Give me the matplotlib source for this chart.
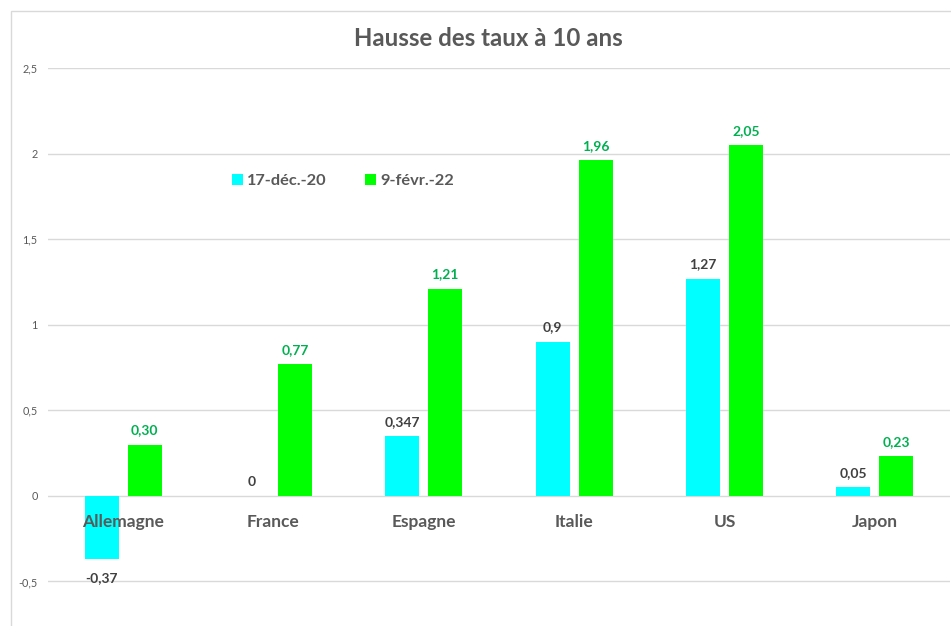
import matplotlib
matplotlib.use("Agg")
import matplotlib.pyplot as plt
from matplotlib.patches import Rectangle

categories = ["Allemagne", "France", "Espagne", "Italie", "US", "Japon"]
series_names = ["17-déc.-20", "9-févr.-22"]
values_dec20 = [-0.37, 0, 0.347, 0.9, 1.27, 0.05]
values_feb22 = [0.30, 0.77, 1.21, 1.96, 2.05, 0.23]
labels_dec20 = ["-0,37", "0", "0,347", "0,9", "1,27", "0,05"]
labels_feb22 = ["0,30", "0,77", "1,21", "1,96", "2,05", "0,23"]
yticks = [-0.5, 0, 0.5, 1, 1.5, 2, 2.5]
ytick_labels = ["-0,5", "0", "0,5", "1", "1,5", "2", "2,5"]

plt.rcParams['font.family'] = ['Lato', 'DejaVu Sans']

W, H = 951, 626
fig = plt.figure(figsize=(W / 100, H / 100), dpi=100)

# outer chart border
fig.patches.append(Rectangle((10.5 / W, -0.1), 1.2, (H - 10.5) / H + 0.1,
                             transform=fig.transFigure, fill=False,
                             edgecolor="#d9d9d9", linewidth=1.0))

left, right = 48 / W, 950 / W
top_px, bot_px = 68, 667
ax = fig.add_axes([left, (H - bot_px) / H, right - left, (bot_px - top_px) / H])
ax.set_xlim(-0.5, 5.5)
ax.set_ylim(-1, 2.5)
for s in ax.spines.values():
    s.set_visible(False)
ax.set_yticks(yticks)
ax.set_yticklabels(ytick_labels)
ax.tick_params(axis='y', length=0, labelsize=7.8, labelcolor="#595959", pad=7.5)
ax.set_xticks([])
ax.grid(axis='y', color="#d9d9d9", linewidth=1)
ax.set_axisbelow(True)

x = list(range(len(categories)))
off = 0.142
bw = 0.226
cyan = "#00FFFF"
green = "#00FF00"
ax.bar([i - off for i in x], values_dec20, width=bw, color=cyan, label=series_names[0], zorder=2)
ax.bar([i + off for i in x], values_feb22, width=bw, color=green, label=series_names[1], zorder=2)

dark = "#404040"
lgreen = "#00B050"
for i, (v, lab) in enumerate(zip(values_dec20, labels_dec20)):
    if v < 0:
        ax.annotate(lab, (i - off, v), xytext=(0, -9), textcoords="offset points",
                    ha="center", va="top", fontsize=10, fontweight="bold", color=dark)
    else:
        ax.annotate(lab, (i - off, v), xytext=(0, 6), textcoords="offset points",
                    ha="center", va="bottom", fontsize=10, fontweight="bold", color=dark)
for i, (v, lab) in enumerate(zip(values_feb22, labels_feb22)):
    ax.annotate(lab, (i + off, v), xytext=(0, 6), textcoords="offset points",
                ha="center", va="bottom", fontsize=10, fontweight="bold", color=lgreen)

for i, c in enumerate(categories):
    ax.annotate(c, (i, 0), xytext=(0, -18.5), textcoords="offset points",
                ha="center", va="center", fontsize=12.5, fontweight="bold", color="#595959")

leg = ax.legend(loc="upper left",
                bbox_to_anchor=(169 / (950 - 48), 1 - (170 - 68 - 11) / (667 - 68)),
                ncol=2, frameon=False, handlelength=0.7, handleheight=0.7,
                columnspacing=2.3, handletextpad=0.25,
                prop={'size': 11.8, 'weight': 'bold'})
for t in leg.get_texts():
    t.set_color("#595959")

fig.text((355 + 622) / 2 / W, 1 - 38 / H, "Hausse des taux à 10 ans", ha="center", va="center",
         fontsize=17.3, fontweight="bold", color="#595959")

fig.savefig("out.png", dpi=100)
